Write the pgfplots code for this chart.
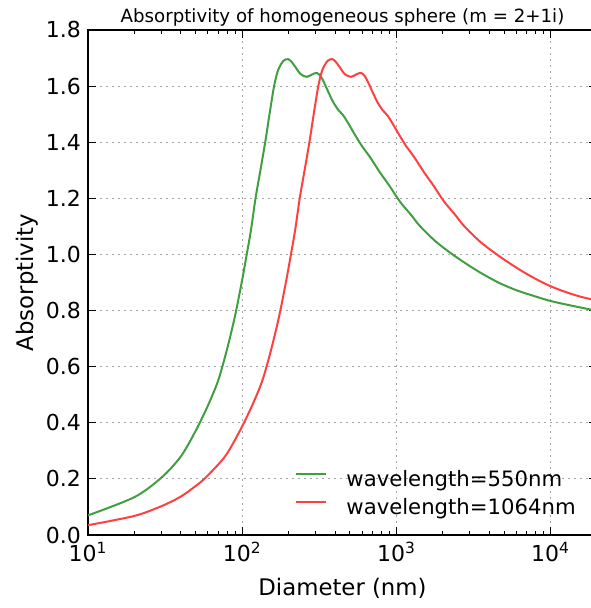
\documentclass[border=0pt]{standalone}
\usepackage{fontspec}
\setmainfont{DejaVu Sans}
\usepackage{pgfplots}
\pgfplotsset{compat=1.18}
\definecolor{cg}{rgb}{0.25,0.625,0.25}
\definecolor{cr}{rgb}{1,0.25,0.25}
\begin{document}
\begin{tikzpicture}
\begin{axis}[
  name=ax,
  scale only axis,
  width=254.5pt, height=252.5pt,
  xmode=log, xmin=10, xmax=20000,
  ymin=0, ymax=1.8,
  xtick={10,100,1000,10000},
  xticklabels={10\textsuperscript{1},10\textsuperscript{2},10\textsuperscript{3},10\textsuperscript{4}},
  ytick={0,0.2,0.4,0.6,0.8,1.0,1.2,1.4,1.6,1.8},
  yticklabels={0.0,0.2,0.4,0.6,0.8,1.0,1.2,1.4,1.6,1.8},
  tick align=inside,
  major tick length=4pt, minor tick length=2pt,
  tick style={black, line width=0.5pt},
  axis line style={black, line width=0.6pt},
  ticklabel style={font=\fontsize{11}{13}\selectfont},
  label style={font=\fontsize{11.4}{13.5}\selectfont},
  grid=major,
  major grid style={black!35, line width=0.5pt, dash pattern=on 1.2pt off 1.8pt},
  xlabel={Diameter (nm)},
  ylabel={Absorptivity},
  xlabel style={at={([yshift=-26.5pt]axis description cs:0.5,0)}, anchor=center},
  ylabel style={at={([xshift=-30.5pt]axis description cs:0,0.5)}, anchor=center},
  title={Absorptivity of homogeneous sphere (m = 2+1i)},
  title style={font=\fontsize{9.1}{11}\selectfont, at={(0.5,1)}, anchor=south, inner sep=0pt, yshift=-4.5pt},
  legend style={at={(0.4067,0.1287)}, anchor=north west, draw=none, fill=none,
    font=\fontsize{10.6}{12.7}\selectfont, row sep=4.5pt, inner sep=0pt,
    nodes={inner sep=0pt, anchor=west},
    /tikz/every odd column/.append style={column sep=9.5pt}},
  legend image code/.code={\draw[#1] (0pt,2.9pt) -- (15pt,2.9pt);},
  legend cell align=left,
]
\addplot[cg, line width=1pt, smooth, tension=0.5] coordinates {
(10,0.070) (20,0.135) (30,0.205) (40,0.280) (50,0.372) (60,0.462) (70,0.552)
(80,0.665) (90,0.783) (100,0.910) (107,1.000) (114,1.087) (122,1.200) (130,1.287)
(141,1.400) (150,1.496) (161,1.600) (171,1.657) (185,1.690) (199,1.696) (210,1.685)
(220,1.670) (239,1.643) (262,1.633) (285,1.642) (305,1.647) (323,1.635) (340,1.612)
(353,1.592) (372,1.565) (390,1.542) (420,1.515) (453,1.495) (490,1.465) (539,1.426)
(600,1.385) (674,1.347) (783,1.292) (900,1.245) (1055,1.188) (1240,1.142) (1422,1.101)
(1800,1.046) (2340,0.998) (3000,0.958) (3660,0.929) (4700,0.897) (6030,0.872)
(8000,0.850) (10000,0.834) (13000,0.820) (18000,0.804) (20000,0.799)
};
\addlegendentry{wavelength=550nm}
\addplot[cr, line width=1pt, smooth, tension=0.5] coordinates {
(10,0.035) (20,0.068) (30,0.103) (40,0.137) (50,0.175) (58,0.205) (77.4,0.280)
(96.7,0.372) (116.1,0.462) (135.4,0.552) (154.8,0.665) (174.1,0.783) (193.5,0.910)
(207,1.000) (220.5,1.087) (236,1.200) (251.5,1.287) (272.8,1.400) (290.2,1.496)
(311.5,1.600) (330.8,1.657) (357.9,1.690) (385,1.696) (406.2,1.685) (425.6,1.670)
(462.3,1.643) (506.8,1.633) (551.3,1.642) (590,1.647) (624.8,1.635) (657.7,1.612)
(682.9,1.592) (719.6,1.565) (754.5,1.542) (812.5,1.515) (876.3,1.495) (947.9,1.465)
(1042.7,1.426) (1160.7,1.385) (1303.9,1.347) (1514.7,1.292) (1741,1.245) (2041,1.188)
(2399,1.142) (2751,1.101) (3482,1.046) (4527,0.998) (5804,0.958) (7080,0.929)
(9092,0.897) (11665,0.872) (15476,0.850) (20000,0.836)
};
\addlegendentry{wavelength=1064nm}
\end{axis}
\pgfresetboundingbox
\path[use as bounding box] ([shift={(-44pt,-36.5pt)}]ax.south west) rectangle ([shift={(251pt,15pt)}]ax.north west);
\end{tikzpicture}
\end{document}
